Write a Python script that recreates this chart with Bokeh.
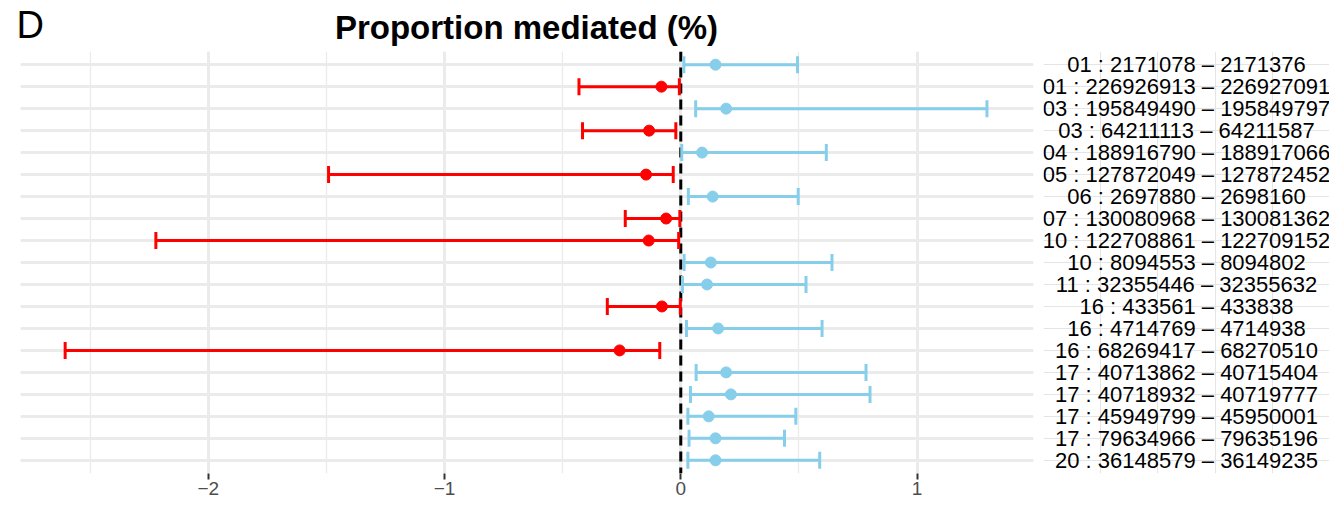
from bokeh.plotting import figure
from bokeh.models import (Range1d, FactorRange, FixedTicker, Grid, CategoricalTicker,
                          Span, Whisker, TeeHead, ColumnDataSource, LinearAxis)
from bokeh.layouts import row, column
from bokeh.core.properties import value
from bokeh.embed import file_html
from bokeh.resources import INLINE

# ---------------- data ----------------
labels = [
    "01 : 2171078 – 2171376",
    "01 : 226926913 – 226927091",
    "03 : 195849490 – 195849797",
    "03 : 64211113 – 64211587",
    "04 : 188916790 – 188917066",
    "05 : 127872049 – 127872452",
    "06 : 2697880 – 2698160",
    "07 : 130080968 – 130081362",
    "10 : 122708861 – 122709152",
    "10 : 8094553 – 8094802",
    "11 : 32355446 – 32355632",
    "16 : 433561 – 433838",
    "16 : 4714769 – 4714938",
    "16 : 68269417 – 68270510",
    "17 : 40713862 – 40715404",
    "17 : 40718932 – 40719777",
    "17 : 45949799 – 45950001",
    "17 : 79634966 – 79635196",
    "20 : 36148579 – 36149235",
]
estimate = [0.147, -0.082, 0.192, -0.134, 0.090, -0.147, 0.135, -0.062, -0.136, 0.127,
            0.111, -0.080, 0.158, -0.259, 0.192, 0.212, 0.118, 0.147, 0.147]
lower = [0.013, -0.431, 0.063, -0.416, 0.004, -1.491, 0.032, -0.235, -2.222, 0.014,
         0.007, -0.311, 0.024, -2.606, 0.065, 0.041, 0.030, 0.035, 0.030]
upper = [0.494, -0.006, 1.296, -0.021, 0.616, -0.032, 0.497, -0.004, -0.009, 0.640,
         0.530, -0.002, 0.598, -0.089, 0.784, 0.801, 0.487, 0.439, 0.588]
x_ticks = [-2, -1, 0, 1]
x_tick_labels = ["−2", "−1", "0", "1"]
x_minor = [-2.5, -1.5, -0.5, 0.5]
title_text = "Proportion mediated (%)"
panel_tag = "D"

RED = "#FF0000"
BLUE = "#87CEEB"
FONT = "Liberation Sans"

neg = [e < 0 for e in estimate]
def subset(flag):
    idx = [i for i, n in enumerate(neg) if n == flag]
    return ColumnDataSource(dict(
        y=[labels[i] for i in idx],
        est=[estimate[i] for i in idx],
        lo=[lower[i] for i in idx],
        hi=[upper[i] for i in idx],
    ))
src_red = subset(True)
src_blue = subset(False)

yr = FactorRange(factors=list(reversed(labels)), range_padding=0.1,
                 range_padding_units="absolute")

TOTAL_W = 1329
STRIP_H = 51
H = 456
BOT = 34
MAIN_W = 1043
LAB_W = TOTAL_W - MAIN_W

# ---- top strip: panel tag + title ----
s = figure(width=TOTAL_W, height=STRIP_H, x_range=Range1d(0, TOTAL_W), y_range=Range1d(0, STRIP_H),
           output_backend="svg", toolbar_location=None,
           x_axis_location=None, y_axis_location=None,
           min_border_left=0, min_border_right=0, min_border_top=0, min_border_bottom=0)
s.outline_line_color = None
s.xgrid.visible = False
s.ygrid.visible = False
s.text(x=[16], y=[STRIP_H - 24], text=[panel_tag], text_font=value(FONT),
       text_font_size="38px", text_color="black", text_baseline="middle",
       text_align="left")
s.text(x=[526], y=[STRIP_H - 27], text=[title_text], text_font=value(FONT),
       text_font_size="33px", text_font_style="bold", text_color="black",
       text_baseline="middle", text_align="center")

# ---- main panel ----
p = figure(width=MAIN_W, height=H, x_range=Range1d(-2.795, 1.493), y_range=yr,
           output_backend="svg", toolbar_location=None,
           x_axis_location=None, y_axis_location=None,
           min_border_left=20, min_border_right=10,
           min_border_top=0, min_border_bottom=BOT)
p.outline_line_color = None
p.background_fill_color = "white"

ticker = FixedTicker(ticks=x_ticks, minor_ticks=x_minor)
xaxis = LinearAxis(ticker=ticker)
xaxis.major_label_overrides = {float(t): s_ for t, s_ in zip(x_ticks, x_tick_labels)}
xaxis.axis_line_color = None
xaxis.major_tick_line_color = "#333333"
xaxis.major_tick_line_width = 2
xaxis.major_tick_in = 0
xaxis.major_tick_out = 6
xaxis.minor_tick_line_color = None
xaxis.major_label_standoff = 2
xaxis.major_label_text_font = FONT
xaxis.major_label_text_font_size = "19px"
xaxis.major_label_text_color = "#4D4D4D"
p.add_layout(xaxis, "below")

p.add_layout(Grid(dimension=0, ticker=ticker, grid_line_color="#EBEBEB", grid_line_width=3,
                  minor_grid_line_color="#EBEBEB", minor_grid_line_width=1.3))
p.add_layout(Grid(dimension=1, ticker=CategoricalTicker(), grid_line_color="#EBEBEB",
                  grid_line_width=3))

p.add_layout(Span(location=0, dimension="height", line_color="black", line_width=3,
                  line_dash="10 6", level="underlay"))

for src, col in ((src_red, RED), (src_blue, BLUE)):
    w = Whisker(base="y", lower="lo", upper="hi", dimension="width", source=src,
                line_color=col, line_width=3, level="underlay",
                lower_head=TeeHead(size=17, line_color=col, line_width=3),
                upper_head=TeeHead(size=17, line_color=col, line_width=3))
    p.add_layout(w)
    p.scatter(x="est", y="y", source=src, size=11, fill_color=col, line_color=col)

# ---- label column ----
q = figure(width=LAB_W, height=H, x_range=Range1d(0, 1), y_range=yr,
           output_backend="svg", toolbar_location=None,
           x_axis_location=None, y_axis_location=None,
           min_border_left=0, min_border_right=0,
           min_border_top=0, min_border_bottom=BOT)
q.outline_line_color = None
lab_src = ColumnDataSource(dict(y=labels, t=labels, x=[0.5] * len(labels)))
q.text(x="x", y="y", text="t", source=lab_src, text_align="center", text_baseline="middle",
       text_font=value(FONT), text_font_size="22px", text_color="black")

layout = column(s, row(p, q))
open("out.html", "w").write(file_html(layout, INLINE))
